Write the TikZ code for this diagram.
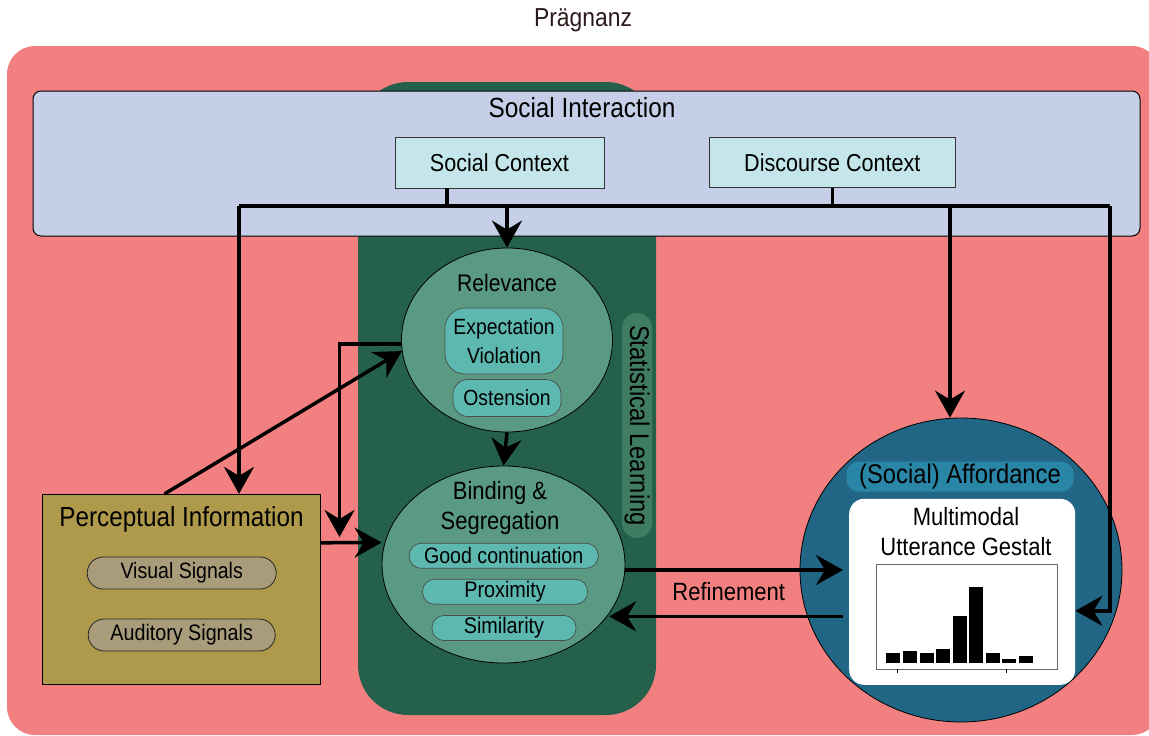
\documentclass[tikz,border=0pt]{standalone}
\usepackage{fontspec}
\setmainfont{Liberation Sans}[FakeStretch=0.88]
\usetikzlibrary{arrows.meta,shapes.geometric}

\definecolor{pragred}{HTML}{F28080}
\definecolor{slgreen}{HTML}{25604A}
\definecolor{slbox}{HTML}{3F7C63}
\definecolor{ellgreen}{HTML}{5A9A82}
\definecolor{cueteal}{HTML}{5DB8B0}
\definecolor{interlav}{HTML}{C5D0E8}
\definecolor{ctxcyan}{HTML}{C4E6EA}
\definecolor{percgold}{HTML}{AE9A4A}
\definecolor{siggrey}{HTML}{A89C7B}
\definecolor{affblue}{HTML}{226686}
\definecolor{afflabel}{HTML}{2A86A6}
\definecolor{titlebrown}{HTML}{2B1B1B}

\newcommand{\fsz}[2]{\fontsize{#1}{#2}\selectfont}

\tikzset{
  link/.style={line width=3.5pt},
  arr/.style={line width=3.5pt,-{Stealth[length=27pt,width=30pt,inset=9pt]}},
  ctxbox/.style={draw=black!80,line width=0.8pt,fill=ctxcyan,inner sep=0pt},
  sigpill/.style={draw=black!85,line width=0.8pt,fill=siggrey,rounded corners=16pt,inner sep=0pt},
  cuebox/.style={draw=black!70,line width=0.7pt,fill=cueteal,rounded corners=12pt,inner sep=0pt},
  blob/.style={ellipse,draw,line width=0.8pt,inner sep=0pt},
}

\begin{document}
\begin{tikzpicture}[x=1pt,y=-1pt]
  \useasboundingbox (0,0) rectangle (1149,736);
  \fill[pragred,rounded corners=28pt] (7,46) rectangle (1160,735);
  \fill[slgreen,rounded corners=50pt] (358,82) rectangle (656,715);
  \node at (583,20) [text=titlebrown] (title) {\fsz{26}{30}Prägnanz};

  \node[draw,line width=1pt,fill=interlav,rounded corners=8pt,minimum width=1107pt,minimum height=145pt] (interact) at (586.5,163.5) {};
  \node (intertxt) at (582,108) {\fsz{27.7}{32}Social Interaction};
  \node[ctxbox,minimum width=209pt,minimum height=51pt] (sc) at (499.5,162.5) {\fsz{24.5}{28}Social Context};
  \node[ctxbox,minimum width=246pt,minimum height=50pt] (dc) at (832.3,162.5) {\fsz{24.5}{28}Discourse Context};

  \node[fill=slbox,rounded corners=15pt,rotate=-90,minimum width=225pt,minimum height=30pt,inner sep=0pt] (stat) at (637,425.5) {\fsz{27}{30}Statistical Learning};

  \node[blob,fill=ellgreen,minimum width=211pt,minimum height=184pt] (rel) at (507,340) {};
  \node (reltxt) at (507,283) {\fsz{24}{29}Relevance};
  \node[cuebox,rounded corners=20pt,minimum width=118pt,minimum height=66pt,align=center,font=\fsz{22}{29}] (expv) at (504,341) {Expectation\\Violation};
  \node[cuebox,rounded corners=15pt,minimum width=108pt,minimum height=37pt] (ost) at (507,398) {\fsz{22}{26}Ostension};

  \node[blob,fill=ellgreen,minimum width=243pt,minimum height=197pt] (bind) at (503.5,564.5) {};
  \node[align=center,font=\fsz{25}{30.6}] (bindtxt) at (500,508) {Binding \&\\Segregation};
  \node[cuebox,minimum width=189pt,minimum height=25pt] (good) at (503.7,555.8) {\fsz{22.3}{25}Good continuation};
  \node[cuebox,minimum width=165pt,minimum height=25pt] (prox) at (505,591.8) {\fsz{22.5}{25}Proximity};
  \node[cuebox,minimum width=144pt,minimum height=25pt] (simil) at (504,628) {\fsz{22.5}{25}Similarity};

  \node[draw,line width=0.8pt,fill=percgold,minimum width=278pt,minimum height=190pt] (perc) at (181.5,589.3) {};
  \node (perctxt) at (181.5,519) {\fsz{27.6}{30}Perceptual Information};
  \node[sigpill,minimum width=189pt,minimum height=32pt] (vis) at (181.7,573) {\fsz{22.2}{25}Visual Signals};
  \node[sigpill,minimum width=187pt,minimum height=32pt] (aud) at (181.7,635) {\fsz{22.4}{25}Auditory Signals};

  \node[blob,fill=affblue,minimum width=322pt,minimum height=304pt] (aff) at (961,570) {};
  \node[fill=afflabel,rounded corners=12pt,minimum width=227pt,minimum height=30pt,inner sep=0pt] (afftxt) at (960,476.7) {\fsz{27}{30}(Social) Affordance};
  \node[fill=white,rounded corners=15pt,minimum width=226pt,minimum height=186pt] (gestalt) at (962.2,591.8) {};
  \node[align=center,font=\fsz{25}{29.5}] (gtxt) at (966,531.5) {Multimodal\\Utterance Gestalt};
  \draw[black!60,line width=1pt] (876.6,564) rectangle (1057,669);
  \foreach \i/\t in {0/652.7,1/650.7,2/652.7,3/649,4/616,5/587,6/652.7,7/659,8/656}
    \fill (886.4+16.55*\i,663) rectangle (900.4+16.55*\i,\t);
  \draw[line width=0.8pt] (897.6,669) -- (897.6,673) (1006,669) -- (1006,673);

  \coordinate (busL) at (239,206);
  \coordinate (busA) at (950,206);
  \coordinate (busR) at (1110,206);
  \coordinate (fbk) at (339.5,537);
  \coordinate (refS) at ([xshift=-6pt,yshift=-24.5pt]gestalt.west);

  \draw[link] ([xshift=-52.5pt]sc.south) -- ([xshift=-52.5pt]sc.south |- busL);
  \draw[link] (dc.south) -- (dc.south |- busL);
  \draw[link] (busL) -- (busR);
  \draw[arr] (busL) -- (busL |- perc.north);
  \draw[arr] (rel.north |- busL) -- (rel.north);
  \draw[arr] (busA) -- (busA |- aff.north);
  \draw[arr] (busR) |- ([yshift=-19pt]gestalt.east);
  \draw[arr] ([xshift=-17pt]perc.north) -- (rel.186);
  \draw[arr] ([yshift=-4pt]rel.west) -| (fbk);
  \draw[arr] ([yshift=46.5pt]perc.east) -- ([yshift=22pt]bind.west);
  \draw[arr] (rel.south) -- (bind.north);
  \draw[arr] ([yshift=-5.5pt]bind.east) -- ([xshift=-6pt,yshift=21.8pt]gestalt.west);
  \draw[arr] (refS) -- (bind.-25 |- refS);
  \node (refine) at (728.7,591.7) {\fsz{25}{28}Refinement};
\end{tikzpicture}
\end{document}
